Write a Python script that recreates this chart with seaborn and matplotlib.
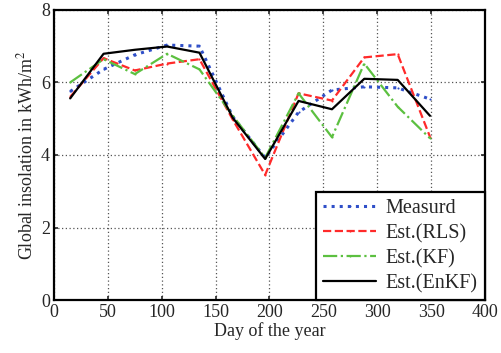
import matplotlib
matplotlib.use('Agg')
import matplotlib.pyplot as plt
import numpy as np
import pandas as pd
import seaborn as sns

# day of year (mid-month) and daily insolation
days = [15, 46, 75, 105, 135, 166, 196, 227, 258, 288, 319, 349]
measured = [5.75, 6.36, 6.76, 7.03, 7.00, 5.05, 3.92, 5.18, 5.79, 5.88, 5.85, 5.54]
est_rls = [5.60, 6.67, 6.33, 6.52, 6.64, 4.97, 3.45, 5.70, 5.50, 6.69, 6.78, 4.50]
est_kf = [6.00, 6.64, 6.23, 6.79, 6.36, 5.08, 3.92, 5.70, 4.49, 6.52, 5.33, 4.46]
est_enkf = [5.56, 6.79, 6.90, 6.99, 6.82, 5.02, 3.89, 5.49, 5.26, 6.10, 6.07, 5.08]

series = [
    ('Measurd', measured, '#2f4fc8', ':', 2.2),
    ('Est.(RLS)', est_rls, '#ff2a2a', '--', 1.6),
    ('Est.(KF)', est_kf, '#5cc040', '-.', 1.6),
    ('Est.(EnKF)', est_enkf, 'black', '-', 1.6),
]

sns.set_style('ticks')
plt.rcParams['font.family'] = ['Liberation Serif', 'DejaVu Serif']
plt.rcParams['mathtext.fontset'] = 'stix'

fig = plt.figure(figsize=(5.02, 3.53), dpi=100)
ax = fig.add_axes([0.1076, 0.150, 0.8584, 0.822])

for name, vals, col, ls, lw in series:
    df = pd.DataFrame({'day': days, 'val': vals})
    sns.lineplot(data=df, x='day', y='val', ax=ax, color=col, linestyle=ls,
                 linewidth=lw, label=name, marker='.' if ls != '-' else None,
                 markersize=3, markeredgewidth=0)

ax.set_xlim(0, 400)
ax.set_ylim(0, 8)
ax.set_xticks(np.arange(0, 401, 50))
ax.set_yticks(np.arange(0, 9, 2))
ax.grid(True, color='#555555', linestyle=(0, (1.0, 2.0)), linewidth=0.9)
ax.tick_params(direction='in', top=True, right=True, labelsize=13, length=3,
               width=1.2, pad=3)
for s in ax.spines.values():
    s.set_linewidth(1.6)
    s.set_color('black')

ax.set_xlabel('Day of the year', fontsize=13, labelpad=1)
ax.set_ylabel('Global insolation in kWh/m$^2$', fontsize=13, labelpad=3)

leg = ax.legend(loc='lower right', fontsize=14.5, frameon=True, fancybox=False,
                borderaxespad=0, handlelength=2.6, handletextpad=0.5,
                labelspacing=0.28, borderpad=0.35)
leg.get_frame().set_edgecolor('black')
leg.get_frame().set_linewidth(1.6)
leg.get_frame().set_alpha(1)

fig.savefig('out.png', dpi=100)
